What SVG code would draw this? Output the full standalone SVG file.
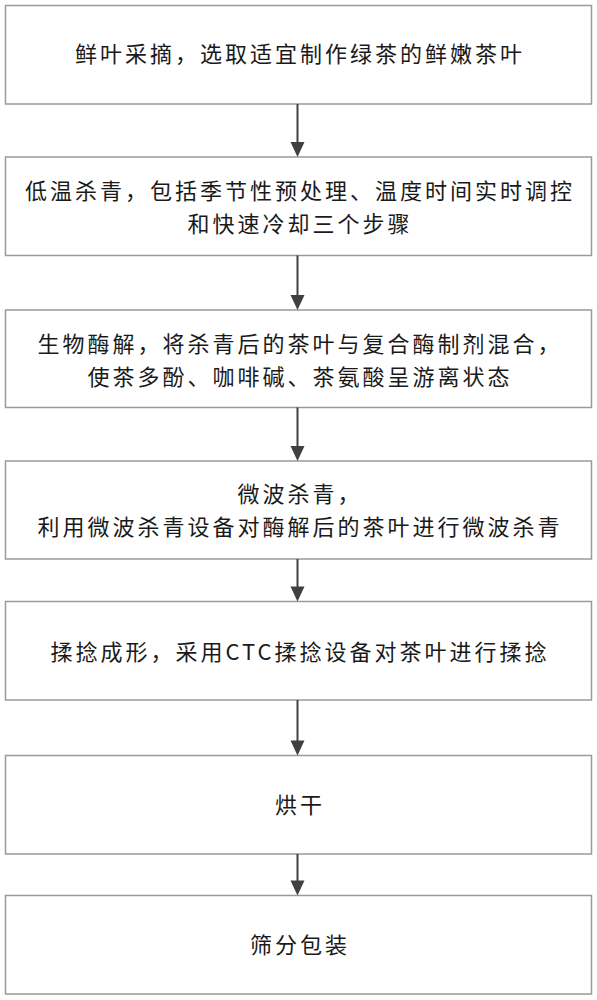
<svg xmlns="http://www.w3.org/2000/svg" width="597" height="1000" viewBox="0 0 597 1000">
<style>
.box{fill:#ffffff;stroke:#9a9a9a;stroke-width:1.5}
.t{font-family:"Noto Sans CJK SC","Liberation Serif",serif;font-size:22px;letter-spacing:3px;fill:#1a1a1a;text-anchor:middle}
.conn line{stroke:#404040;stroke-width:2}
.conn path{fill:#404040}
</style>
<rect width="597" height="1000" fill="#ffffff"/>
<g id="n1"><rect class="box" x="5.5" y="5.5" width="586" height="98.5"/>
<text class="t" x="300" y="62">鲜叶采摘，选取适宜制作绿茶的鲜嫩茶叶</text></g>
<g id="n2"><rect class="box" x="5.5" y="157" width="586" height="98.5"/>
<text class="t" x="300" y="199">低温杀青，包括季节性预处理、温度时间实时调控</text>
<text class="t" x="300" y="232">和快速冷却三个步骤</text></g>
<g id="n3"><rect class="box" x="5.5" y="310" width="586" height="97.5"/>
<text class="t" x="300" y="352">生物酶解，将杀青后的茶叶与复合酶制剂混合，</text>
<text class="t" x="300" y="385">使茶多酚、咖啡碱、茶氨酸呈游离状态</text></g>
<g id="n4"><rect class="box" x="5.5" y="461" width="586" height="98"/>
<text class="t" x="300" y="502">微波杀青，</text>
<text class="t" x="300" y="535">利用微波杀青设备对酶解后的茶叶进行微波杀青</text></g>
<g id="n5"><rect class="box" x="5.5" y="601.5" width="586" height="98.5"/>
<text class="t" x="300" y="660">揉捻成形，采用CTC揉捻设备对茶叶进行揉捻</text></g>
<g id="n6"><rect class="box" x="5.5" y="755.5" width="586" height="98.5"/>
<text class="t" x="300" y="813">烘干</text></g>
<g id="n7"><rect class="box" x="5.5" y="895.5" width="586" height="98.5"/>
<text class="t" x="300" y="953">筛分包装</text></g>
<g class="conn" id="connectors">
<line x1="297.5" y1="104" x2="297.5" y2="144"/><path d="M290.5,142 L304.5,142 L297.5,157 Z"/>
<line x1="297.5" y1="255.5" x2="297.5" y2="297"/><path d="M290.5,295 L304.5,295 L297.5,310 Z"/>
<line x1="297.5" y1="407.5" x2="297.5" y2="448"/><path d="M290.5,446 L304.5,446 L297.5,461 Z"/>
<line x1="297.5" y1="559" x2="297.5" y2="588"/><path d="M290.5,586.5 L304.5,586.5 L297.5,601.5 Z"/>
<line x1="297.5" y1="700" x2="297.5" y2="742"/><path d="M290.5,740.5 L304.5,740.5 L297.5,755.5 Z"/>
<line x1="297.5" y1="854" x2="297.5" y2="882"/><path d="M290.5,880.5 L304.5,880.5 L297.5,895.5 Z"/>
</g>
</svg>
